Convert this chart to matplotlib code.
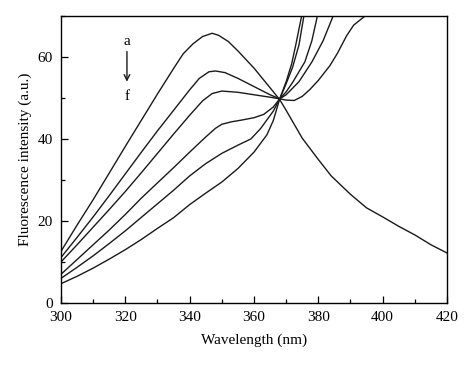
import matplotlib
matplotlib.use('Agg')
import matplotlib.pyplot as plt
from matplotlib.ticker import MultipleLocator

plt.rcParams['font.family'] = ['Liberation Serif', 'DejaVu Serif']

# curves a..f, wavelength (nm) / intensity
wl_a = [300, 305, 310, 315, 320, 325, 330, 335, 338, 341, 344, 347, 349, 352, 355, 360, 365, 368,
        370, 375, 380, 384, 390, 395, 400, 405, 410, 415, 420]
int_a = [12.6, 19, 25.2, 31.7, 38.2, 44.6, 51.0, 57.2, 60.8, 63.2, 65.0, 65.8, 65.3, 63.8, 61.5, 57.3, 52.5, 49.6,
         47, 40.2, 35, 31, 26.5, 23.2, 21, 18.7, 16.6, 14.2, 12.2]

wl_b = [300, 305, 310, 315, 320, 325, 330, 335, 340, 343, 346, 348, 351, 355, 360, 365, 368,
        370, 374, 378, 381.5, 384.6, 386]
int_b = [11.1, 16, 21, 26.2, 31.5, 36.8, 42, 47, 52, 54.8, 56.4, 56.6, 56.2, 54.8, 52.8, 50.8, 49.8,
         50.8, 54, 58.8, 64, 70, 73]

wl_c = [300, 305, 310, 315, 320, 325, 330, 335, 340, 344, 347, 350, 355, 360, 365, 368,
        370, 372.5, 375, 377.4, 380, 383.6, 386, 388.8, 391, 394.5, 397]
int_c = [10.0, 14.2, 18.5, 22.8, 27.2, 31.8, 36.5, 41.2, 45.8, 49.3, 51.1, 51.7, 51.4, 50.8, 50.2, 49.8,
         49.5, 49.4, 50.4, 52.1, 54.3, 57.9, 61, 65.2, 67.8, 70, 72]

wl_d = [300, 305, 310, 315, 320, 325, 330, 335, 340, 345, 348, 350, 353, 356, 360, 363, 366, 368,
        370, 372, 375.8, 378, 379.7, 381]
int_d = [7.0, 10.6, 14.2, 17.8, 21.6, 25.6, 29.3, 33, 36.8, 40.5, 42.6, 43.6, 44.2, 44.6, 45.2, 46, 47.8, 49.8,
         51.5, 53.8, 58.8, 64, 70, 74]

wl_e = [300, 305, 310, 315, 320, 325, 330, 335, 340, 345, 350, 355, 359, 362, 366, 368,
        370, 372, 374, 375.5, 377]
int_e = [6.0, 8.7, 11.5, 14.5, 17.6, 20.9, 24.2, 27.5, 31, 34, 36.5, 38.5, 40, 42.5, 46.8, 49.8,
         53.5, 57.5, 63, 70, 74]

wl_f = [300, 305, 310, 315, 320, 325, 330, 335, 340, 345, 350, 355, 360, 364, 366, 368,
        370, 371.7, 373, 374.8, 376]
int_f = [4.7, 6.5, 8.5, 10.7, 13, 15.5, 18.2, 20.8, 24, 26.8, 29.5, 32.8, 36.8, 41, 44.5, 49.8,
         54, 58.3, 63, 70, 74]

fig = plt.figure(figsize=(4.74, 3.65), dpi=100)
ax = fig.add_axes([0.1287, 0.170, 0.8143, 0.786])

for wl, y in [(wl_a, int_a), (wl_b, int_b), (wl_c, int_c), (wl_d, int_d), (wl_e, int_e), (wl_f, int_f)]:
  ax.plot(wl, y, color='#1a1a1a', lw=1.0)

ax.set_xlim(300, 420)
ax.set_ylim(0, 70)
ax.xaxis.set_major_locator(MultipleLocator(20))
ax.xaxis.set_minor_locator(MultipleLocator(10))
ax.yaxis.set_major_locator(MultipleLocator(20))
ax.yaxis.set_minor_locator(MultipleLocator(10))
ax.tick_params(which='both', direction='in', top=False, right=False, labelsize=11, pad=6)
ax.tick_params(which='major', length=5, width=0.9)
ax.tick_params(which='minor', length=3, width=0.9)
for s in ax.spines.values():
  s.set_linewidth(1.0)

ax.set_xlabel('Wavelength (nm)', fontsize=11, labelpad=7)
ax.set_ylabel('Fluorescence intensity (a.u.)', fontsize=11, labelpad=4)

# a -> f label
ax.text(320.5, 63.9, 'a', ha='center', va='center', fontsize=11)
ax.annotate('', xy=(320.5, 53.3), xytext=(320.5, 62.0),
            arrowprops=dict(arrowstyle='->', color='#1a1a1a', lw=1.0))
ax.text(320.5, 50.3, 'f', ha='center', va='center', fontsize=11)

plt.savefig('out.png', dpi=100)
